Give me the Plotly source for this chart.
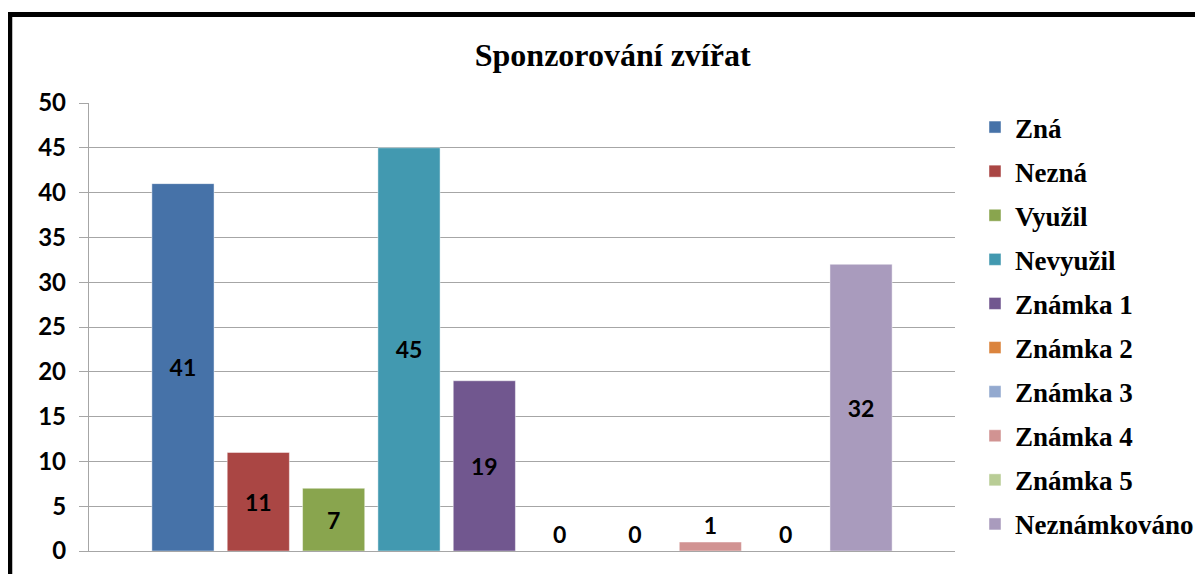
import plotly.graph_objects as go

# data
CATEGORY = [""]
SERIES = ["Zná", "Nezná", "Využil", "Nevyužil", "Známka 1", "Známka 2",
          "Známka 3", "Známka 4", "Známka 5", "Neznámkováno"]
VALUES = [41, 11, 7, 45, 19, 0, 0, 1, 0, 32]
COLORS = ["#4672A8", "#AA4644", "#89A54E", "#4299B0", "#71578F",
          "#DB843D", "#93A9CF", "#D19392", "#B9CD96", "#A99BBD"]
TITLE = "Sponzorování zvířat"
Y_TICKS = list(range(0, 51, 5))

LABEL_FONT = dict(family="Lato", size=23, color="black", weight="bold")
SERIF_FONT = dict(family="Liberation Serif", color="black", weight="bold")

fig = go.Figure()
for name, val, col in zip(SERIES, VALUES, COLORS):
    fig.add_trace(go.Bar(
        x=CATEGORY, y=[val], name=name, legendgroup=name,
        marker=dict(color=col, line=dict(color="rgba(255,255,255,0.45)", width=1)),
        text=[str(val)], textposition="inside" if val >= 3 else "outside",
        insidetextanchor="middle", constraintext="none",
        textfont=LABEL_FONT, cliponaxis=False,
    ))

# chart border (top and left edges visible in the reference)
BX, BY = -0.0915, 1.1975
fig.add_shape(type="line", xref="paper", yref="paper", x0=BX, x1=BX, y0=-0.2, y1=BY,
              line=dict(color="black", width=5))
fig.add_shape(type="line", xref="paper", yref="paper", x0=BX - 0.003, x1=1.4, y0=BY, y1=BY,
              line=dict(color="black", width=5))

fig.update_layout(
    width=1195, height=566,
    margin=dict(l=81, r=248, t=95, b=23, autoexpand=False),
    paper_bgcolor="white", plot_bgcolor="white",
    barmode="group", bargap=0.13, bargroupgap=0.175,
    title=dict(text=TITLE, x=0.506, xanchor="center", y=0.917, yanchor="middle",
               font=dict(SERIF_FONT, size=32)),
    legend=dict(xref="container", x=0.8092, xanchor="left", y=1.0, yanchor="top",
                traceorder="grouped", font=dict(SERIF_FONT, size=27),
                itemwidth=30, tracegroupgap=6, bgcolor="rgba(0,0,0,0)"),
    showlegend=True,
)
fig.update_yaxes(range=[0, 50], tickvals=Y_TICKS, showgrid=True, gridcolor="#a6a6a6",
                 gridwidth=1.3, showline=True, linecolor="#a6a6a6", linewidth=1.3,
                 ticks="outside", ticklen=9, tickcolor="#a6a6a6", tickwidth=1.3,
                 tickfont=dict(LABEL_FONT, size=24), ticklabelstandoff=8, zeroline=False)
fig.update_xaxes(showticklabels=False, showline=True, linecolor="#a6a6a6", linewidth=1.3,
                 ticks="", showgrid=False)

fig.write_html("out.html")
